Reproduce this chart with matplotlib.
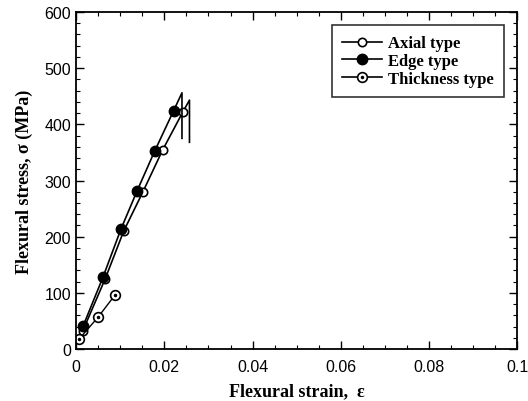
import matplotlib.pyplot as plt
from matplotlib.ticker import MultipleLocator
from matplotlib.lines import Line2D

# Data (strain, stress in MPa)
axial_strain = [0.0015, 0.0066, 0.0108, 0.0151, 0.0196, 0.0242, 0.0257, 0.0257]
axial_stress = [32, 125, 210, 279, 354, 422, 443, 368]
edge_strain = [0.0016, 0.0061, 0.0102, 0.0138, 0.0178, 0.0221, 0.0240, 0.0240]
edge_stress = [41, 128, 214, 281, 352, 424, 456, 375]
thick_strain = [0.0007, 0.0050, 0.0088]
thick_stress = [18, 57, 96]

x_ticks = [0, 0.02, 0.04, 0.06, 0.08, 0.1]
x_labels = ['0', '0.02', '0.04', '0.06', '0.08', '0.1']

serif = 'Liberation Serif'
plt.rcParams['font.family'] = 'Liberation Sans'

fig = plt.figure(figsize=(5.28, 4.02), dpi=100)
ax = fig.add_axes([0.144, 0.129, 0.836, 0.839])

ax.plot(axial_strain, axial_stress, color='black', lw=1.2,
        marker='o', ms=6, mfc='white', mec='black', mew=1.2, markevery=range(6))
ax.plot(edge_strain, edge_stress, color='black', lw=1.2,
        marker='o', ms=7.5, mfc='black', mec='black', markevery=range(6))
ax.plot(thick_strain, thick_stress, color='black', lw=1.0,
        marker='o', ms=7, mfc='white', mec='black', mew=1.2)
ax.plot(thick_strain, thick_stress, ls='none', marker='.', ms=3, color='black')

ax.set_xlim(0, 0.1)
ax.set_ylim(0, 600)
ax.set_xticks(x_ticks, x_labels)
ax.xaxis.set_minor_locator(MultipleLocator(0.005))
ax.yaxis.set_major_locator(MultipleLocator(100))
ax.yaxis.set_minor_locator(MultipleLocator(20))
ax.tick_params(which='both', direction='in', top=True, right=True, labelsize=11.5)
ax.tick_params(which='major', length=6, width=1)
ax.tick_params(which='minor', length=3, width=0.8)
ax.tick_params(axis='x', pad=7)
for s in ax.spines.values():
    s.set_linewidth(1.3)

ax.set_xlabel('Flexural strain,  ε', fontfamily=serif, fontweight='bold', fontsize=13, labelpad=6)
ax.set_ylabel('Flexural stress, σ (MPa)', fontfamily=serif, fontweight='bold', fontsize=13, labelpad=8)

h_axial = Line2D([], [], color='black', lw=1.2, marker='o', ms=6, mfc='white', mec='black', mew=1.2)
h_edge = Line2D([], [], color='black', lw=1.2, marker='o', ms=7.5, mfc='black', mec='black')
h_thick1 = Line2D([], [], color='black', lw=1.2, marker='o', ms=7, mfc='white', mec='black', mew=1.2)
h_thick2 = Line2D([], [], ls='none', marker='.', ms=3, color='black')
leg = ax.legend([h_axial, h_edge, (h_thick1, h_thick2)],
                ['Axial type', 'Edge type', 'Thickness type'],
                loc='upper right', bbox_to_anchor=(0.97, 0.96), borderaxespad=0,
                prop={'family': serif, 'weight': 'bold', 'size': 12},
                frameon=True, fancybox=False, edgecolor='black',
                handlelength=2.4, handletextpad=0.4, labelspacing=0.1,
                borderpad=0.6)
leg.get_frame().set_linewidth(1.2)

fig.savefig('out.png', dpi=100)
